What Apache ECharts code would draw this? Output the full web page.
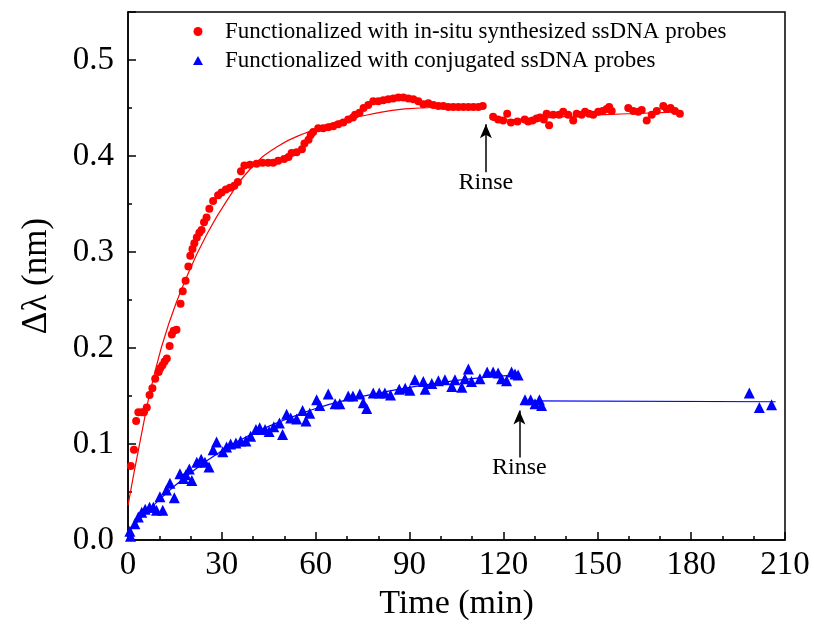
<!DOCTYPE html>
<html>
<head>
<meta charset="utf-8">
<script src="https://cdn.jsdelivr.net/npm/echarts@6/dist/echarts.min.js"></script>
<style>
  html, body { margin: 0; padding: 0; background: #fff; }
  #chart { width: 814px; height: 633px; }
</style>
</head>
<body>
<div id="chart"></div>
<script>
// Data
const redName = 'Functionalized with in-situ synthesized ssDNA probes'
const blueName = 'Functionalized with conjugated ssDNA probes'

const redTime = [0.9, 1.9, 2.6, 3.3, 4.4, 5.1, 6.0, 6.9, 7.8, 8.7, 9.8, 10.3, 11.0, 11.7, 12.4, 13.3, 14.0, 14.6, 15.5, 16.8,
  17.5, 18.4, 19.3, 19.9, 20.6, 21.2, 22.0, 22.8, 23.5, 24.3, 25.1, 26.0, 27.2, 28.8, 29.9, 31.3, 32.6, 34.0, 35.1, 36.1,
  37.2, 39.0, 41.1, 43.0, 44.8, 46.4, 48.0, 49.9, 51.3, 52.3, 53.9, 55.6, 56.4, 57.7, 58.4, 59.2, 60.8, 62.4, 64.0, 65.6,
  67.2, 68.8, 70.4, 71.9, 72.6, 74.0, 75.3, 76.8, 78.4, 80.0, 81.6, 83.2, 84.8, 86.4, 88.0, 89.6, 91.2, 92.8, 94.4, 96.0,
  97.6, 99.2, 100.8, 102.4, 104.0, 105.6, 107.2, 108.8, 110.4, 112.0, 113.4,
  116.7, 118.3, 119.9, 121.2, 122.4, 124.5, 126.8, 127.9, 129.3, 130.6, 131.7, 132.9, 133.8, 134.6, 135.9, 137.8, 139.1,
  140.7, 142.3, 143.4, 145.0, 146.1, 147.4, 148.7, 150.3, 151.7, 153.0, 153.8, 154.6, 159.9, 161.5, 163.1, 164.2, 165.8,
  167.4, 169.0, 171.1, 172.2, 173.4, 174.8, 176.4]
const redShift = [0.077, 0.094, 0.124, 0.133, 0.133, 0.133, 0.138, 0.151, 0.158, 0.168, 0.175, 0.179, 0.182, 0.186, 0.189, 0.202, 0.214, 0.218, 0.219, 0.246,
  0.259, 0.270, 0.285, 0.296, 0.303, 0.309, 0.315, 0.320, 0.323, 0.331, 0.336, 0.345, 0.353, 0.359, 0.362, 0.365, 0.367, 0.369, 0.373, 0.384,
  0.390, 0.391, 0.392, 0.393, 0.393, 0.393, 0.395, 0.397, 0.399, 0.403, 0.404, 0.407, 0.413, 0.417, 0.422, 0.425, 0.429, 0.429, 0.430, 0.431,
  0.433, 0.435, 0.438, 0.440, 0.443, 0.445, 0.450, 0.453, 0.457, 0.457, 0.458, 0.459, 0.460, 0.461, 0.461, 0.460, 0.459, 0.457, 0.454, 0.455,
  0.453, 0.452, 0.452, 0.451, 0.451, 0.451, 0.451, 0.451, 0.451, 0.451, 0.452,
  0.441, 0.438, 0.437, 0.444, 0.435, 0.436, 0.438, 0.436, 0.437, 0.439, 0.440, 0.438, 0.444, 0.432, 0.443, 0.443, 0.446,
  0.443, 0.437, 0.444, 0.443, 0.446, 0.444, 0.443, 0.446, 0.447, 0.449, 0.451, 0.447, 0.450, 0.447, 0.446, 0.448, 0.437,
  0.443, 0.447, 0.452, 0.449, 0.450, 0.447, 0.444]

// fitted curve of the red data, before and after rinsing
const redFitTime = [0, 4, 8, 13, 19.4, 25.3, 31.7, 39.2, 47.8, 57.5, 67.1, 76.8, 88.5, 104, 114]
const redFitShift = [0.036, 0.105, 0.167, 0.225, 0.279, 0.319, 0.354, 0.387, 0.410, 0.425, 0.436, 0.443, 0.449, 0.451, 0.452]
const redFit2Time = [116.5, 130, 145, 160, 177]
const redFit2Shift = [0.437, 0.439, 0.442, 0.444, 0.446]

const blueTime = [0.6, 0.8, 2.2, 3.3, 4.4, 5.5, 6.9, 8.1, 9.1, 10.2, 11.1, 12.3, 13.4, 14.8, 16.6, 17.7, 18.5, 19.6, 20.4, 22.0,
  23.4, 24.6, 25.9, 27.2, 28.3, 30.3, 31.5, 32.8, 34.5, 36.0, 37.7, 39.2, 40.9, 42.1, 43.8, 45.1, 46.6, 48.4, 49.4, 50.7,
  52.0, 53.9, 55.8, 56.9, 58.1, 60.3, 61.3, 64.0, 66.2, 67.7, 70.4, 71.9, 74.1, 75.2, 76.3, 78.4, 80.3, 82.1, 83.9, 86.7,
  88.6, 90.1, 91.7, 94.4, 95.0, 97.1, 99.2, 101.3, 103.5, 104.5, 106.7, 107.7, 108.8, 109.8, 112.5, 114.8, 116.7, 118.3,
  119.4, 121.0, 122.6, 123.7, 124.7,
  126.9, 128.7, 130.1, 131.5, 132.2, 198.6, 201.8, 205.7]
const blueShift = [0.009, 0.004, 0.017, 0.024, 0.029, 0.032, 0.034, 0.034, 0.031, 0.045, 0.031, 0.052, 0.059, 0.044, 0.069, 0.064, 0.068, 0.074, 0.062, 0.081,
  0.084, 0.081, 0.076, 0.094, 0.102, 0.092, 0.097, 0.100, 0.101, 0.103, 0.103, 0.108, 0.115, 0.117, 0.115, 0.113, 0.118, 0.122, 0.110, 0.131,
  0.127, 0.126, 0.135, 0.124, 0.132, 0.146, 0.140, 0.152, 0.142, 0.142, 0.150, 0.150, 0.152, 0.143, 0.137, 0.153, 0.153, 0.153, 0.151, 0.157,
  0.158, 0.156, 0.167, 0.165, 0.157, 0.163, 0.166, 0.167, 0.160, 0.167, 0.159, 0.168, 0.178, 0.165, 0.168, 0.175, 0.175, 0.174,
  0.168, 0.166, 0.175, 0.173, 0.172,
  0.146, 0.146, 0.142, 0.146, 0.140, 0.153, 0.138, 0.141]

const blueFitTime = [0, 10, 20, 30, 40, 50, 60, 70, 80, 90, 100, 110, 120, 125]
const blueFitShift = [0.008, 0.042, 0.070, 0.093, 0.111, 0.125, 0.137, 0.146, 0.153, 0.159, 0.164, 0.168, 0.171, 0.172]
const blueFit2Time = [128, 207]
const blueFit2Shift = [0.145, 0.144]

// rinse arrows: [time, tail, tip, label y]
const rinseRed = [114.4, 0.383, 0.433, 0.372]
const rinseBlue = [125.1, 0.086, 0.135, 0.075]

const xTicks = [0, 30, 60, 90, 120, 150, 180, 210]
const yTicks = [0, 0.1, 0.2, 0.3, 0.4, 0.5]

const zip = (a, b) => a.map((v, i) => [v, b[i]])
const font = "'Liberation Serif', 'Times New Roman', serif"

const chart = echarts.init(document.getElementById('chart'))

function arrow(r) {
  return [
    { coord: [r[0], r[1]], symbol: 'none' },
    { coord: [r[0], r[2]], symbol: 'arrow' }
  ]
}
function rinseLabel(r) {
  return {
    coord: [r[0], r[3]],
    symbol: 'circle',
    symbolSize: 0,
    label: { show: true, position: 'inside', formatter: 'Rinse', color: '#000', fontFamily: font, fontSize: 24 }
  }
}

const option = {
  animation: false,
  backgroundColor: '#fff',
  grid: {
    left: 128, right: 29, top: 12, bottom: 93,
    show: true, borderColor: '#000', borderWidth: 1.5
  },
  legend: {
    data: [redName, { name: blueName, icon: 'triangle' }],
    orient: 'vertical',
    left: 188,
    top: 15,
    itemWidth: 10,
    itemHeight: 9,
    itemGap: 6,
    textStyle: { fontFamily: font, fontSize: 23, color: '#000', padding: [0, 0, 0, 17] }
  },
  xAxis: {
    type: 'value',
    min: 0, max: 210, interval: 30,
    name: 'Time (min)', nameLocation: 'middle', nameGap: 47,
    nameTextStyle: { fontFamily: font, fontSize: 34, color: '#000' },
    axisLine: { lineStyle: { color: '#000', width: 1.5 } },
    axisTick: { inside: true, length: 8, lineStyle: { color: '#000', width: 1.5 } },
    minorTick: { show: true, splitNumber: 3, length: 4, lineStyle: { color: '#000', width: 1.5 } },
    axisLabel: {
      fontFamily: font, fontSize: 33, color: '#000', margin: 9,
      formatter: v => xTicks.includes(v) ? String(v) : ''
    },
    splitLine: { show: false }
  },
  yAxis: {
    type: 'value',
    min: 0, max: 0.55, interval: 0.1,
    name: 'Δλ (nm)', nameLocation: 'middle', nameGap: 74,
    nameTextStyle: { fontFamily: font, fontSize: 35, color: '#000' },
    axisLine: { lineStyle: { color: '#000', width: 1.5 } },
    axisTick: { inside: true, length: 8, lineStyle: { color: '#000', width: 1.5 } },
    minorTick: { show: true, splitNumber: 2, length: 4, lineStyle: { color: '#000', width: 1.5 } },
    axisLabel: {
      fontFamily: font, fontSize: 33, color: '#000', margin: 14, showMaxLabel: false,
      formatter: v => yTicks.some(t => Math.abs(t - v) < 1e-6) ? v.toFixed(1) : ''
    },
    splitLine: { show: false }
  },
  series: [
    {
      name: redName, type: 'scatter', symbol: 'circle', symbolSize: 8,
      itemStyle: { color: '#ff0000', opacity: 1 },
      data: zip(redTime, redShift), z: 3
    },
    {
      name: blueName, type: 'scatter', symbol: 'triangle', symbolSize: 11,
      itemStyle: { color: '#0000ff', opacity: 1 },
      data: zip(blueTime, blueShift), z: 3
    },
    {
      name: 'redFit', type: 'line', smooth: true, symbol: 'none',
      lineStyle: { color: '#ff0000', width: 1.2 },
      data: zip(redFitTime, redFitShift)
    },
    {
      name: 'redFit2', type: 'line', smooth: true, symbol: 'none',
      lineStyle: { color: '#ff0000', width: 1.2 },
      data: zip(redFit2Time, redFit2Shift)
    },
    {
      name: 'blueFit', type: 'line', smooth: true, symbol: 'none',
      lineStyle: { color: '#0000ff', width: 1.2 },
      data: zip(blueFitTime, blueFitShift)
    },
    {
      name: 'blueFit2', type: 'line', symbol: 'none',
      lineStyle: { color: '#0000ff', width: 1.2 },
      data: zip(blueFit2Time, blueFit2Shift)
    },
    {
      name: 'rinse', type: 'line', data: [],
      markLine: {
        silent: true,
        symbolSize: [9, 14],
        label: { show: false },
        lineStyle: { color: '#000', width: 1.5, type: 'solid' },
        itemStyle: { color: '#000' },
        data: [arrow(rinseRed), arrow(rinseBlue)]
      },
      markPoint: {
        silent: true,
        data: [rinseLabel(rinseRed), rinseLabel(rinseBlue)]
      }
    }
  ]
}

chart.setOption(option)
</script>
</body>
</html>
